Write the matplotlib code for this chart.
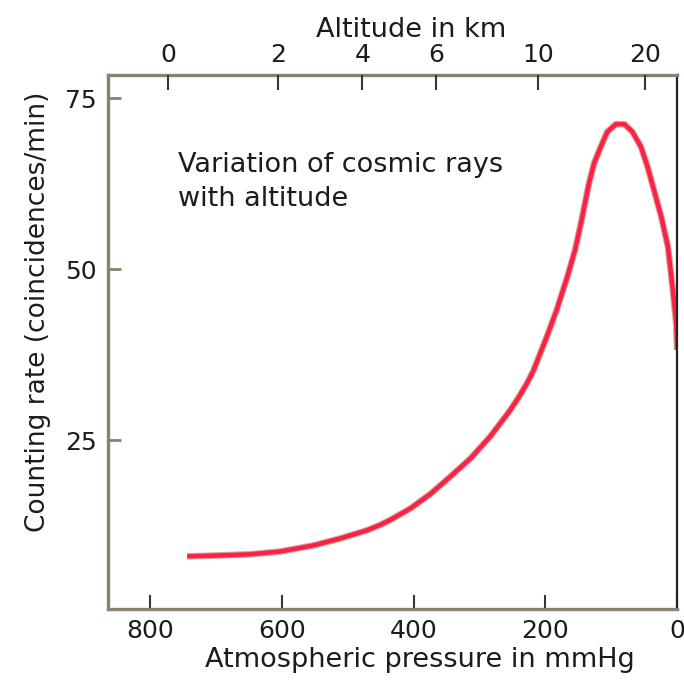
import matplotlib
matplotlib.use("Agg")
import matplotlib.pyplot as plt
import matplotlib.patheffects as pe

plt.rcParams["font.family"] = ["DejaVu Sans"]

# curve: pressure (mmHg) -> counting rate
pressure = [744, 704, 648, 603, 552, 512, 471, 451, 436, 405, 375, 345, 314, 284, 254,
            241, 228, 218, 198, 183, 167, 155, 145, 134, 126, 116, 106, 93, 80, 68,
            55, 45, 35, 24, 14, 6.5, 1.5, 0]
rate = [8.0, 8.1, 8.3, 8.7, 9.6, 10.6, 11.8, 12.6, 13.3, 15.0, 17.1, 19.6, 22.3, 25.5, 29.3,
        31.2, 33.3, 35.2, 40.1, 44.0, 48.8, 52.8, 57.2, 62.5, 65.5, 67.9, 70.1, 71.2, 71.2, 70.1,
        67.9, 65.0, 61.5, 57.6, 53.3, 46.9, 42.1, 38.2]

pressure_ticks = [800, 600, 400, 200, 0]
rate_ticks = [25, 50, 75]
alt_km = [0, 2, 4, 6, 10, 20]
alt_pressure = [773, 606, 478, 366, 211, 49]

frame = "#8b8170"
ink = "#1e1c1a"

fig = plt.figure(figsize=(6.84, 6.91), dpi=100)
ax = fig.add_axes([0.158, 0.1187, 0.832, 0.7728])

ax.plot(pressure, rate, color="#ff2048", lw=3.2, solid_capstyle="butt", solid_joinstyle="round",
        path_effects=[pe.Stroke(linewidth=4.8, foreground="#d0aa9a"), pe.Normal()])

ax.set_xlim(864, 0)
ax.set_ylim(0.3, 78.4)
ax.set_xticks(pressure_ticks)
ax.set_yticks(rate_ticks)

for side in ["left", "top", "bottom"]:
    ax.spines[side].set_color(frame)
    ax.spines[side].set_linewidth(2.4)
ax.spines["right"].set_color("#222222")
ax.spines["right"].set_linewidth(1.6)

ax.tick_params(axis="x", direction="in", length=10, width=1.5, color="#3a3530",
               labelsize=18, labelcolor=ink, pad=7)
ax.tick_params(axis="y", direction="in", length=9, width=2, color=frame,
               labelsize=18, labelcolor=ink, pad=8)

ax.set_xlabel("Atmospheric pressure in mmHg", fontsize=19.5, color=ink)
ax.xaxis.set_label_coords(0.548, -0.072)
ax.set_ylabel("Counting rate (coincidences/min)", fontsize=19, color=ink)
ax.yaxis.set_label_coords(-0.1, 0.556)

top = ax.twiny()
top.set_xlim(ax.get_xlim())
top.set_xticks(alt_pressure)
top.set_xticklabels([str(k) for k in alt_km])
top.tick_params(axis="x", direction="in", length=11, width=1.5, color="#3a3530",
                labelsize=18, labelcolor=ink, pad=6)
for side in top.spines:
    top.spines[side].set_visible(False)
top.set_xlabel("Altitude in km", fontsize=19.5, color=ink)
top.xaxis.set_label_coords(0.533, 1.072)

ax.text(0.122, 0.855, "Variation of cosmic rays\nwith altitude", transform=ax.transAxes,
        fontsize=19.5, color=ink, va="top", ha="left", linespacing=1.4)

fig.savefig("out.png", dpi=100)
